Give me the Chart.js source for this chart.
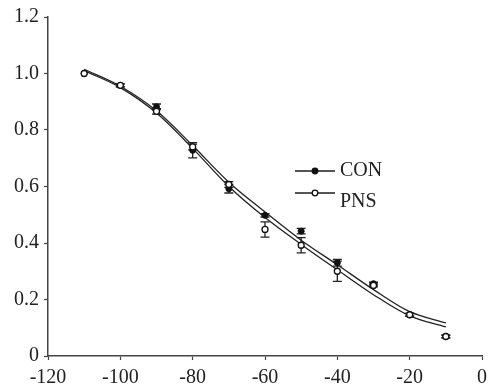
<!DOCTYPE html>
<html>
<head>
<meta charset="utf-8">
<script src="https://cdn.jsdelivr.net/npm/chart.js@4/dist/chart.umd.min.js"></script>
<style>
  body { margin: 0; background: #fff; }
  canvas { display: block; }
</style>
</head>
<body>
<canvas id="chart" width="493" height="390"></canvas>
<script>
// voltage steps (mV)
const voltages = [-110, -100, -90, -80, -70, -60, -50, -40, -30, -20, -10];

// measured points and SEM
const conValues = [1.0, 0.958, 0.882, 0.728, 0.592, 0.498, 0.442, 0.33, 0.256, 0.146, 0.069];
const conErrors = [0, 0.005, 0.01, 0.027, 0.015, 0.006, 0.01, 0.012, 0.005, 0.005, 0.005];
const pnsValues = [1.0, 0.958, 0.866, 0.74, 0.607, 0.448, 0.392, 0.30, 0.25, 0.146, 0.069];
const pnsErrors = [0, 0.005, 0.01, 0.01, 0.01, 0.027, 0.027, 0.036, 0.005, 0.005, 0.005];

// fitted curves
const conFit = [1.015, 0.955, 0.868, 0.745, 0.615, 0.51, 0.41, 0.323, 0.235, 0.157, 0.117];
const pnsFit = [1.01, 0.95, 0.86, 0.735, 0.60, 0.49, 0.395, 0.305, 0.217, 0.142, 0.103];

const xTicks = [-120, -100, -80, -60, -40, -20, 0];
const yTicks = [0, 0.2, 0.4, 0.6, 0.8, 1.0, 1.2];

const serif = 'Liberation Serif';
const ink = '#222';

function toPoints(vals) {
    return voltages.map((v, i) => ({ x: v, y: vals[i] }));
}

// error bars for the two point series
const errorBars = {
    id: 'errorBars',
    beforeDatasetsDraw(chart) {
        const { ctx, scales } = chart;
        const sets = [[conValues, conErrors], [pnsValues, pnsErrors]];
        ctx.save();
        ctx.strokeStyle = ink;
        ctx.lineWidth = 1.3;
        sets.forEach(([vals, errs]) => {
            voltages.forEach((v, i) => {
                if (!errs[i]) return;
                const x = scales.x.getPixelForValue(v);
                const top = scales.y.getPixelForValue(vals[i] + errs[i]);
                const bot = scales.y.getPixelForValue(vals[i] - errs[i]);
                ctx.beginPath();
                ctx.moveTo(x, top); ctx.lineTo(x, bot);
                ctx.moveTo(x - 4.5, top); ctx.lineTo(x + 4.5, top);
                ctx.moveTo(x - 4.5, bot); ctx.lineTo(x + 4.5, bot);
                ctx.stroke();
            });
        });
        ctx.restore();
    }
};

// legend: short line with the marker in the middle
const lineLegend = {
    id: 'lineLegend',
    afterDraw(chart) {
        const ctx = chart.ctx;
        const rows = [
            { label: 'CON', y: 171, textY: 175.5, fill: '#111' },
            { label: 'PNS', y: 193, textY: 207, fill: '#fff' }
        ];
        ctx.save();
        rows.forEach(r => {
            ctx.strokeStyle = '#555';
            ctx.lineWidth = 2;
            ctx.beginPath();
            ctx.moveTo(295, r.y); ctx.lineTo(335, r.y);
            ctx.stroke();
            ctx.beginPath();
            ctx.arc(315, r.y, 2.8, 0, Math.PI * 2);
            ctx.fillStyle = r.fill;
            ctx.fill();
            ctx.lineWidth = 1.3;
            ctx.strokeStyle = '#111';
            ctx.stroke();
            ctx.fillStyle = ink;
            ctx.font = '20px ' + serif;
            ctx.textBaseline = 'alphabetic';
            ctx.fillText(r.label, 340, r.textY);
        });
        ctx.restore();
    }
};

new Chart(document.getElementById('chart'), {
    type: 'scatter',
    data: {
        datasets: [
            {
                label: 'CON fit',
                data: toPoints(conFit),
                showLine: true,
                pointRadius: 0,
                borderColor: ink,
                borderWidth: 1.3,
                cubicInterpolationMode: 'monotone',
                order: 3
            },
            {
                label: 'PNS fit',
                data: toPoints(pnsFit),
                showLine: true,
                pointRadius: 0,
                borderColor: ink,
                borderWidth: 1.3,
                cubicInterpolationMode: 'monotone',
                order: 3
            },
            {
                label: 'CON',
                data: toPoints(conValues),
                pointRadius: 3,
                pointBackgroundColor: '#111',
                pointBorderColor: '#111',
                pointBorderWidth: 1,
                order: 2
            },
            {
                label: 'PNS',
                data: toPoints(pnsValues),
                pointRadius: 3,
                pointBackgroundColor: '#fff',
                pointBorderColor: '#111',
                pointBorderWidth: 1.3,
                order: 1
            }
        ]
    },
    options: {
        responsive: false,
        animation: false,
        layout: { padding: { left: 0, right: 6, top: 17, bottom: 0 } },
        plugins: {
            legend: { display: false },
            tooltip: { enabled: false }
        },
        scales: {
            x: {
                type: 'linear',
                min: -120,
                max: 0,
                afterFit: s => { s.height = 34; },
                afterBuildTicks: s => { s.ticks = xTicks.map(v => ({ value: v })); },
                border: { display: true, color: '#444', width: 1.5 },
                grid: { drawOnChartArea: false, color: '#444', tickLength: 4, tickWidth: 1.2 },
                ticks: {
                    padding: 6,
                    color: ink,
                    font: { family: serif, size: 20 },
                    maxRotation: 0
                }
            },
            y: {
                min: 0,
                max: 1.2,
                afterFit: s => { s.width = 48; },
                afterBuildTicks: s => { s.ticks = yTicks.map(v => ({ value: v })); },
                border: { display: true, color: '#444', width: 1.5 },
                grid: { drawOnChartArea: false, color: '#444', tickLength: 4, tickWidth: 1.2 },
                ticks: {
                    padding: 5,
                    color: ink,
                    font: { family: serif, size: 20 },
                    callback: v => v === 0 ? '0' : v.toFixed(1)
                }
            }
        }
    },
    plugins: [errorBars, lineLegend]
});
</script>
</body>
</html>
